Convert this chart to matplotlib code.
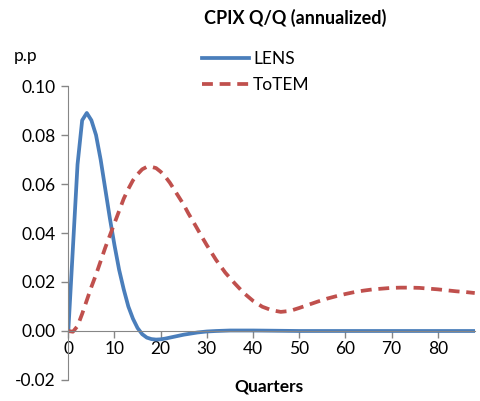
import matplotlib
matplotlib.use("Agg")
import matplotlib.pyplot as plt

plt.rcParams['font.family'] = ['Lato', 'DejaVu Sans']

# quarters and responses
lens_q = [0, 1, 2, 3, 4, 5, 6, 7, 8, 9, 10, 11, 12, 13, 14, 15, 16, 17, 18, 19,
          20, 21, 22, 23, 24, 25, 26, 28, 30, 32, 35, 40, 45, 50, 60, 70, 80, 88]
lens = [0.0, 0.034, 0.068, 0.086, 0.089, 0.086, 0.080, 0.070, 0.058, 0.046,
        0.035, 0.025, 0.017, 0.010, 0.005, 0.0012, -0.0013, -0.0027, -0.0033, -0.0035,
        -0.0034, -0.0031, -0.0027, -0.0023, -0.0019, -0.0015, -0.0012, -0.0006, -0.0002, 0.0,
        0.0002, 0.0002, 0.0001, 0.0, 0.0, 0.0, 0.0, 0.0]

totem_q = [0, 1, 2, 3, 4, 5, 6, 7, 8, 9, 10, 11, 12, 13, 14, 15, 16, 17, 18, 19,
           20, 21, 22, 23, 24, 25, 26, 27, 28, 29, 30, 32, 34, 36, 38, 40, 42, 44,
           46, 48, 50, 52, 54, 56, 58, 60, 62, 64, 66, 68, 70, 72, 74, 76, 78, 80,
           82, 84, 86, 88]
totem = [0.0, -0.0003, 0.002, 0.007, 0.0125, 0.018, 0.023, 0.0285, 0.034, 0.039,
         0.044, 0.049, 0.054, 0.058, 0.0615, 0.064, 0.066, 0.067, 0.067, 0.0665,
         0.065, 0.063, 0.0605, 0.0575, 0.0545, 0.0515, 0.048, 0.0448, 0.0415, 0.0382,
         0.035, 0.029, 0.0238, 0.0195, 0.0155, 0.0123, 0.0099, 0.0085, 0.0078, 0.0082,
         0.0094, 0.0107, 0.012, 0.0132, 0.0142, 0.0151, 0.0159, 0.0165, 0.017, 0.0173,
         0.0176, 0.0177, 0.0177, 0.0176, 0.0173, 0.017, 0.0166, 0.0162, 0.0159, 0.0155]

x_ticks = [0, 10, 20, 30, 40, 50, 60, 70, 80]
y_ticks = [-0.02, 0.00, 0.02, 0.04, 0.06, 0.08, 0.10]

fig = plt.figure(figsize=(4.81, 4.01), dpi=100)
ax = fig.add_axes([0.142, 0.0524, 0.845, 0.7331])

ax.plot(lens_q, lens, color='#4A7EBB', lw=2.7, label='LENS', solid_joinstyle='round')
ax.plot(totem_q, totem, color='#C0504D', lw=2.7, ls=(0, (2.9, 1.8)), label='ToTEM')

ax.set_xlim(0, 88)
ax.set_ylim(-0.02, 0.10)
ax.set_xticks(x_ticks)
ax.set_yticks(y_ticks)
ax.set_yticklabels(['%.2f' % v for v in y_ticks])

for s in ['top', 'right']:
    ax.spines[s].set_visible(False)
ax.spines['bottom'].set_position(('data', 0))
ax.spines['left'].set_color('#868686')
ax.spines['bottom'].set_color('#868686')
ax.tick_params(axis='both', colors='#868686', labelcolor='black', labelsize=12.5, length=5, width=1)
ax.tick_params(axis='x', direction='out', pad=2)
ax.tick_params(axis='y', direction='out', pad=4)

fig.text(0.613, 0.955, 'CPIX Q/Q (annualized)', ha='center', va='center', fontsize=13, fontweight='bold')
fig.text(0.028, 0.860, 'p.p', ha='left', va='center', fontsize=12.5)
fig.text(0.56, 0.035, 'Quarters', ha='center', va='center', fontsize=12.5, fontweight='bold')

fig.legend(*ax.get_legend_handles_labels(), loc='upper left', bbox_to_anchor=(0.42, 0.872),
           frameon=False, fontsize=12.5, handlelength=2.7, handletextpad=0.25,
           labelspacing=0.56, borderpad=0, borderaxespad=0)

fig.savefig('out.png', dpi=100)
